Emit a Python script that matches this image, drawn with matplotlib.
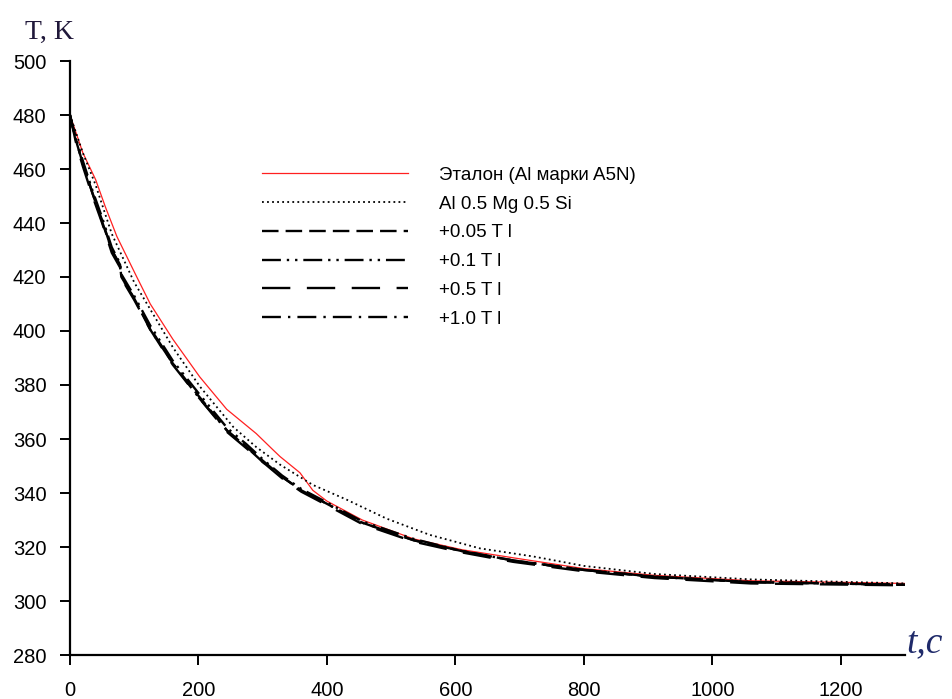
import matplotlib
matplotlib.use("Agg")
import matplotlib.pyplot as plt

# ---- data ----
t_ref = [0, 20, 40, 55, 73, 104, 125, 160, 202, 244, 290, 316, 327, 358, 378, 400,
         455, 535, 610, 690, 800, 910, 1060, 1300]
T_ref = [480, 466, 456, 446, 435, 420, 410, 397, 383, 371, 362, 356, 353.5, 347.5, 341, 337,
         330, 323, 319, 316, 312, 309.5, 307.5, 306.5]

t_alloy = [0, 20, 40, 65, 100, 125, 160, 202, 254, 290, 327, 378, 431, 493, 560, 638,
           721, 800, 910, 1060, 1300]
T_alloy = [480, 466, 454, 436, 418, 408, 394, 379.5, 364.5, 357, 350.5, 343, 337.5, 330.5,
           324.5, 319.5, 316.5, 313, 310, 308, 306.5]

t_ti = [0, 10, 20, 35, 50, 65, 78, 80, 100, 125, 160, 200, 245, 275, 300, 330, 360, 400,
        455, 535, 610, 690, 800, 910, 1060, 1300]
T_ti005 = [480, 470, 462, 451, 441, 430, 424, 420, 412, 401, 388, 376, 363, 357, 352, 346,
           341, 336, 329, 322.5, 318.5, 315, 311.5, 309, 307, 306]
T_ti01 = [479, 471, 463, 452, 442, 431, 425, 421, 413, 402, 389, 377, 364, 358, 352.5, 346.5,
          341.5, 336.5, 329.5, 323, 318.5, 315, 311.5, 309, 307, 306]
T_ti05 = [480, 469, 461, 450, 440, 429, 423.5, 419.5, 411.5, 400.5, 387.5, 375.5, 362.5, 356.5,
          351.5, 345.5, 340.5, 335.5, 328.5, 322, 318, 314.5, 311, 308.5, 306.5, 305.8]
T_ti10 = [480, 470, 462, 451, 440.5, 430, 424.5, 420, 412, 400.5, 388, 375.5, 363, 357, 351.5,
          346, 341, 336, 329, 322.5, 318.5, 315, 311.5, 309, 307, 306]

labels = ["Эталон (Al марки A5N)", "Al 0.5 Mg 0.5 Si", "+0.05 T l", "+0.1 T l",
          "+0.5 T l", "+1.0 T l"]
x_ticks = [0, 200, 400, 600, 800, 1000, 1200]
y_ticks = [280, 300, 320, 340, 360, 380, 400, 420, 440, 460, 480, 500]

# ---- figure ----
fig = plt.figure(figsize=(9.53, 6.99), dpi=100)
ax = fig.add_axes([70 / 953, 1 - 655 / 699, 835 / 953, 594 / 699])

ax.plot(t_ref, T_ref, color="#ff2020", lw=0.9, label=labels[0])
ax.plot(t_alloy, T_alloy, color="black", lw=1.3, linestyle=(0, (1, 1.8)), label=labels[1])
ax.plot(t_ti, T_ti005, color="black", lw=1.7, linestyle=(0, (7, 3)), label=labels[2])
ax.plot(t_ti, T_ti01, color="black", lw=1.7, linestyle=(0, (8, 2.5, 1, 2.5, 1, 2.5)),
        label=labels[3])
ax.plot(t_ti, T_ti05, color="black", lw=1.7, linestyle=(0, (12, 7)), label=labels[4])
ax.plot(t_ti, T_ti10, color="black", lw=1.7, linestyle=(0, (8, 3, 1, 3)), label=labels[5])

ax.set_xlim(0, 1300)
ax.set_ylim(280, 500)
ax.set_xticks(x_ticks)
ax.set_yticks(y_ticks)
for s in ["top", "right"]:
    ax.spines[s].set_visible(False)
for s in ["left", "bottom"]:
    ax.spines[s].set_linewidth(1.6)
ax.tick_params(axis="both", direction="out", length=7, width=1.4,
               labelsize=14.5, labelfontfamily="Liberation Sans")
ax.tick_params(axis="x", pad=12)
ax.tick_params(axis="y", pad=10)

leg = ax.legend(loc="upper left", bbox_to_anchor=(0.23, 0.822), frameon=False,
                borderaxespad=0, borderpad=0, handlelength=7.8, handletextpad=1.65,
                labelspacing=0.62, prop={"family": "Liberation Sans", "size": 13.5})

fig.text(25 / 953, 1 - 39 / 699, "T, K", family="Liberation Serif", fontsize=20,
         color="#20183a")
fig.text(906 / 953, 1 - 652 / 699, "t,c", family="Liberation Serif", style="italic",
         fontsize=27, color="#1f2a6a")

fig.savefig("out.png", dpi=100)
